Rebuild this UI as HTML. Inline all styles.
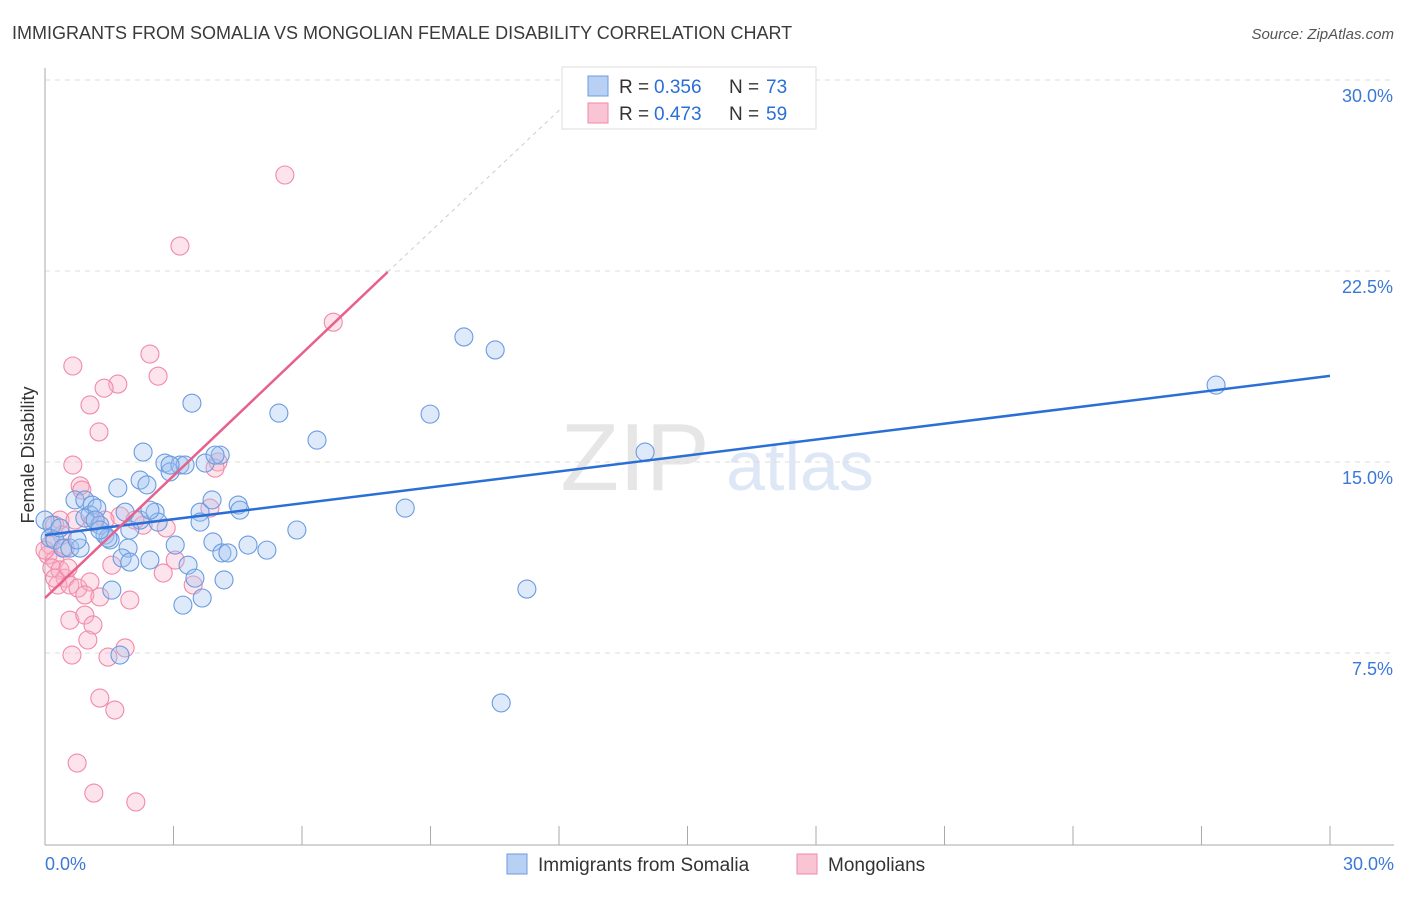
<!DOCTYPE html>
<html><head><meta charset="utf-8"><style>
body{margin:0;background:#fff;font-family:"Liberation Sans",sans-serif}
svg text{font-family:"Liberation Sans",sans-serif}
</style></head><body>
<svg id="chart" width="1406" height="892">
<text x="12" y="39" font-size="18" fill="#3a3a3a">IMMIGRANTS FROM SOMALIA VS MONGOLIAN FEMALE DISABILITY CORRELATION CHART</text>
<text x="1394" y="39" font-size="15" fill="#555" text-anchor="end" font-style="italic">Source: ZipAtlas.com</text>
<text x="635" y="490" font-size="96" fill="#e6e6e6" font-family="Liberation Serif" text-anchor="middle">ZIP</text>
<text x="800" y="490" font-size="70" fill="#dde7f5" text-anchor="middle">atlas</text>
<g id="grid"></g><g id="axes"></g><g id="marks"></g>
<text x="34" y="455" font-size="18" fill="#333" text-anchor="middle" transform="rotate(-90 34 455)">Female Disability</text>
<g>
<rect x="562" y="67" width="254" height="62" fill="#fff" stroke="#ddd"/>
<rect x="588" y="76" width="20" height="20" fill="#b7d0f4" stroke="#6a9be0"/>
<rect x="588" y="103" width="20" height="20" fill="#f9c4d4" stroke="#f08aaa"/>
<text x="619" y="93" font-size="19" fill="#333">R =</text>
<text x="654" y="93" font-size="19" fill="#2a6fd6">0.356</text>
<text x="729" y="93" font-size="19" fill="#333">N =</text>
<text x="766" y="93" font-size="19" fill="#2a6fd6">73</text>
<text x="619" y="120" font-size="19" fill="#333">R =</text>
<text x="654" y="120" font-size="19" fill="#2a6fd6">0.473</text>
<text x="729" y="120" font-size="19" fill="#333">N =</text>
<text x="766" y="120" font-size="19" fill="#2a6fd6">59</text>
</g>
<g>
<rect x="507" y="854" width="20" height="20" fill="#b7d0f4" stroke="#6a9be0"/>
<text x="538" y="871" font-size="19" fill="#333">Immigrants from Somalia</text>
<rect x="797" y="854" width="20" height="20" fill="#f9c4d4" stroke="#f08aaa"/>
<text x="828" y="871" font-size="19" fill="#333">Mongolians</text>
</g>
</svg>
<script>
const yTicks=[7.5,15,22.5,30];
const yTickLabels=["7.5%","15.0%","22.5%","30.0%"];
const xTicks=[0,3,6,9,12,15,18,21,24,27,30];
const blueX=[0,0.16,0.12,0.23,0.42,0.58,0.82,0.70,0.93,1.10,1.05,1.21,0.93,1.28,1.40,1.52,1.70,1.87,1.94,1.80,1.98,1.56,2.22,2.29,2.22,2.38,2.45,2.57,2.64,2.80,2.92,3.04,3.15,3.27,3.34,3.22,3.50,3.43,3.62,3.62,3.67,3.74,3.90,3.92,4.09,4.13,4.27,4.18,4.51,4.55,4.74,5.18,5.46,5.88,6.35,8.41,8.99,9.78,10.51,11.25,10.65,14.01,27.34,1.75,0.75,0.35,1.17,1.47,1.98,2.45,1.28,3.97,2.92];
const blueY=[12.72,12.52,12.01,11.94,11.62,11.62,11.62,13.51,13.51,13.31,12.92,13.19,12.80,12.52,12.13,11.94,13.98,13.03,11.62,11.23,11.07,9.97,12.72,15.39,14.29,14.10,11.15,13.03,12.64,14.96,14.61,11.74,14.88,14.88,10.95,9.38,10.44,17.31,13.03,12.64,9.66,14.96,13.51,11.86,15.27,11.43,11.43,10.37,13.31,13.11,11.74,11.54,16.92,12.33,15.86,13.19,16.88,19.91,19.40,10.01,5.54,15.39,18.02,7.42,11.94,12.41,12.72,12.01,12.33,13.11,12.33,15.27,14.88];
const pinkX=[5.60,3.15,6.73,0.65,2.45,2.64,1.70,1.38,1.05,1.26,0.65,0.82,0.86,4.04,3.97,3.85,2.83,2.29,1.75,1.40,1.12,0.35,0.23,0.12,0.07,0.23,0.16,0.35,0.47,0.30,0.58,0.77,1.05,0.93,1.28,1.56,1.98,2.76,3.04,3.46,0.58,0.93,1.12,1.00,1.87,1.47,0.63,1.28,1.63,0.75,1.14,2.12,0.40,0.47,0.70,2.10,0.23,0,0.54];
const pinkY=[26.27,23.48,20.49,18.77,19.24,18.37,18.06,17.90,17.24,16.18,14.88,14.06,13.90,15.00,14.76,13.19,12.41,12.52,12.88,12.72,12.64,12.72,12.52,11.74,11.35,11.15,10.84,10.76,10.44,10.17,10.17,10.05,10.29,9.78,9.70,10.95,9.58,10.64,11.15,10.17,8.79,8.99,8.60,8.01,7.70,7.34,7.42,5.73,5.26,3.18,2.00,1.65,12.13,11.62,12.72,12.72,10.44,11.54,10.84];
const blueTrend=[[0,12.13],[30,18.38]];
const pinkTrend=[[0,9.66],[8,22.46]];
const pinkDash=[[8,22.46],[12.5,29.6]];
const NS="http://www.w3.org/2000/svg";
const sx=v=>45+v*(1285/30), sy=v=>844-v*(191/7.5);
function mk(tag,attrs,parent){const e=document.createElementNS(NS,tag);for(const k in attrs)e.setAttribute(k,attrs[k]);document.getElementById(parent).appendChild(e);return e;}
yTicks.forEach((t,i)=>{
 const g=mk('line',{x1:45,x2:1394,y1:sy(t),y2:sy(t),stroke:'#ddd','stroke-dasharray':'5,5'},'grid');
 
 
 const l=mk('text',{x:1393,y:sy(t)+22,'font-size':18,fill:'#3b78d8','text-anchor':'end'},'axes');
 l.textContent=yTickLabels[i];
 
 
});
const ax=mk('line',{x1:45,x2:45,y1:68,y2:845,stroke:'#aaa'},'axes');


const bx=mk('line',{x1:45,x2:1394,y1:845,y2:845,stroke:'#aaa'},'axes');


xTicks.forEach(t=>{
 const k=mk('line',{x1:sx(t),x2:sx(t),y1:826,y2:845,stroke:'#aaa'},'axes');
 
 
});
[[0,"0.0%",'start',45],[30,"30.0%",'end',1394]].forEach(d=>{
 const l=mk('text',{x:d[3],y:870,'font-size':18,fill:'#3b78d8','text-anchor':d[2]},'axes');
 l.textContent=d[1];
 
 
});
pinkX.forEach((x,i)=>{
 const c=mk('circle',{cx:sx(x),cy:sy(pinkY[i]),r:9,fill:'rgba(248,175,198,0.35)',stroke:'#f08aaa','stroke-width':1.1},'marks');
 
 
});
blueX.forEach((x,i)=>{
 const c=mk('circle',{cx:sx(x),cy:sy(blueY[i]),r:9,fill:'rgba(160,194,240,0.35)',stroke:'#6a9be0','stroke-width':1.1},'marks');
 
 
});
const tb=mk('line',{x1:sx(blueTrend[0][0]),y1:sy(blueTrend[0][1]),x2:sx(blueTrend[1][0]),y2:sy(blueTrend[1][1]),stroke:'#2a6fd6','stroke-width':2.5},'marks');


const tp=mk('line',{x1:sx(pinkTrend[0][0]),y1:sy(pinkTrend[0][1]),x2:sx(pinkTrend[1][0]),y2:sy(pinkTrend[1][1]),stroke:'#e8608c','stroke-width':2.5},'marks');


const td=mk('line',{x1:sx(pinkDash[0][0]),y1:sy(pinkDash[0][1]),x2:sx(pinkDash[1][0]),y2:sy(pinkDash[1][1]),stroke:'#ccc','stroke-width':1,'stroke-dasharray':'4,4'},'marks');


</script>
</body></html>
